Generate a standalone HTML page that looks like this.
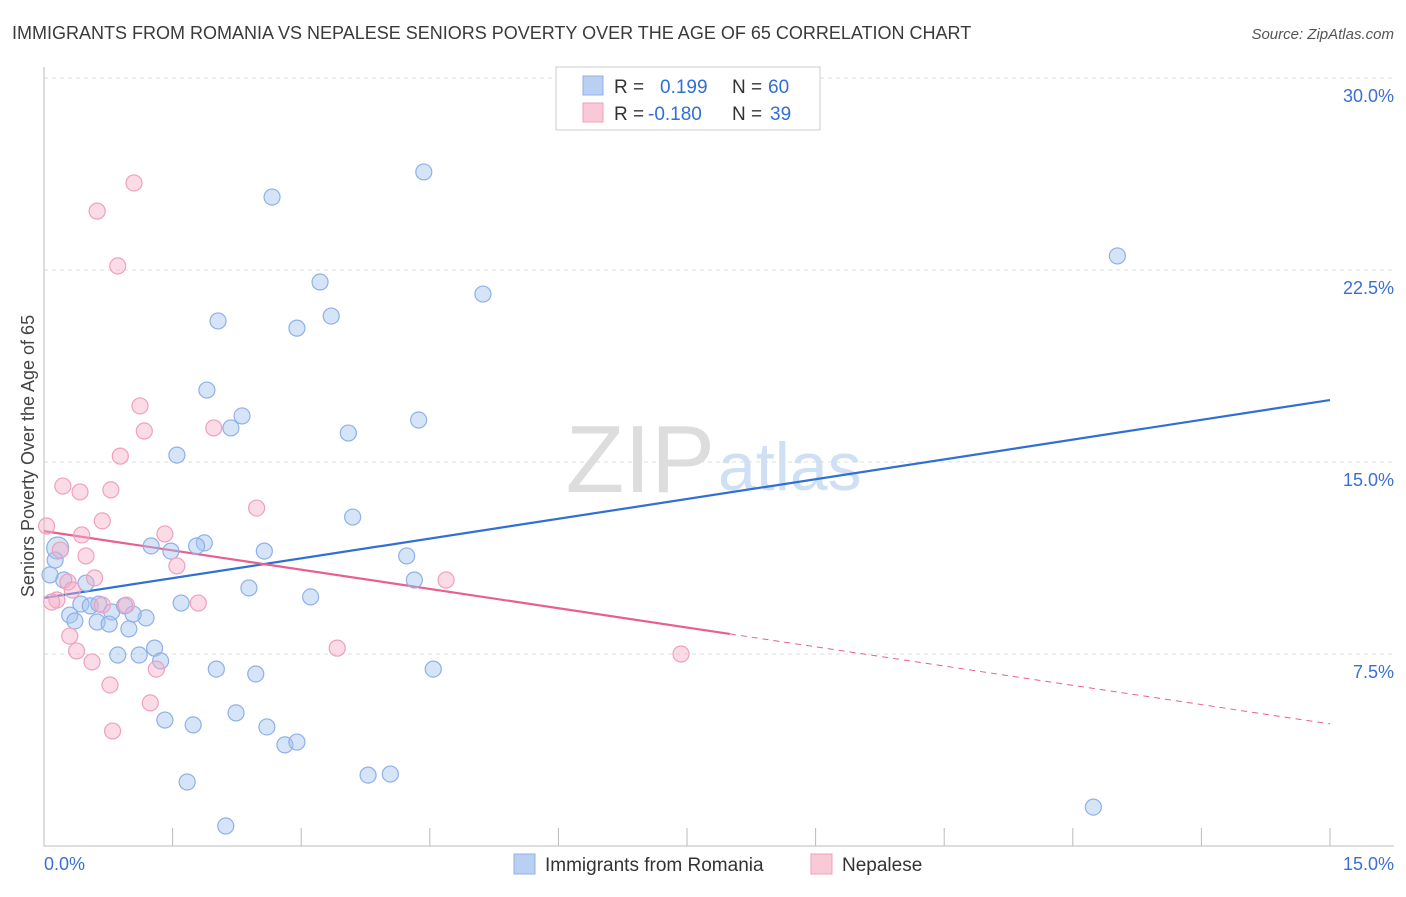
<!DOCTYPE html>
<html><head><meta charset="utf-8"><style>
body{margin:0;background:#fff;font-family:"Liberation Sans",sans-serif;}
svg text{font-family:"Liberation Sans",sans-serif;}
</style></head><body>
<svg id="chart" width="1406" height="892" xmlns="http://www.w3.org/2000/svg">
<text x="12" y="39" font-size="18" fill="#3a3a3a">IMMIGRANTS FROM ROMANIA VS NEPALESE SENIORS POVERTY OVER THE AGE OF 65 CORRELATION CHART</text>
<text x="1394" y="39" font-size="15" fill="#555" text-anchor="end" font-style="italic">Source: ZipAtlas.com</text>
<text x="715" y="492" font-size="96" fill="#ddd" text-anchor="end" font-family="Liberation Serif">ZIP</text>
<text x="718" y="490" font-size="68" fill="#cfe0f5">atlas</text>
<g id="grid"></g>
<g id="axes"></g>
<g id="trend"></g>
<g id="points"></g>
<text transform="translate(34,456) rotate(-90)" font-size="18" fill="#444" text-anchor="middle">Seniors Poverty Over the Age of 65</text>
<text x="44" y="870" font-size="18" fill="#3b6fd4">0.0%</text>
<text x="1394" y="870" font-size="18" fill="#3b6fd4" text-anchor="end">15.0%</text>
<g>
<rect x="556" y="67" width="264" height="63" fill="#fff" stroke="#ccc"/>
<rect x="583" y="76" width="20" height="19" fill="#b9d0f3" stroke="#8fb0e8"/>
<rect x="583" y="103" width="20" height="19" fill="#f9c9d8" stroke="#f0a0bb"/>
<text x="614" y="93" font-size="19" fill="#333">R = </text><text x="660" y="93" font-size="19" fill="#2f6fd6">0.199</text>
<text x="732" y="93" font-size="19" fill="#333">N = </text><text x="768" y="93" font-size="19" fill="#2f6fd6">60</text>
<text x="614" y="120" font-size="19" fill="#333">R = </text><text x="648" y="120" font-size="19" fill="#2f6fd6">-0.180</text>
<text x="732" y="120" font-size="19" fill="#333">N = </text><text x="770" y="120" font-size="19" fill="#2f6fd6">39</text>
</g>
<g>
<rect x="514" y="854" width="21" height="20" fill="#b9d0f3" stroke="#8fb0e8"/>
<text x="545" y="871" font-size="19" fill="#333">Immigrants from Romania</text>
<rect x="811" y="854" width="21" height="20" fill="#f9c9d8" stroke="#f0a0bb"/>
<text x="842" y="871" font-size="19" fill="#333">Nepalese</text>
</g>
</svg>
<script>
const yTicks=[7.5,15,22.5,30];
const yTickLabels=["7.5%","15.0%","22.5%","30.0%"];
const xTicks=[0,1.5,3,4.5,6,7.5,9,10.5,12,13.5,15];
const romaniaX=[4.43,2.66,12.52,3.22,5.12,2.03,2.95,3.35,1.90,2.31,2.18,3.55,4.37,1.55,3.60,1.25,1.48,1.87,1.78,2.57,4.23,4.32,2.39,3.11,0.16,0.13,0.23,0.49,0.43,0.54,0.64,0.79,0.94,0.30,0.36,0.62,0.76,0.99,1.19,1.60,0.86,1.11,1.29,1.36,2.01,2.47,4.54,1.41,1.74,2.24,2.60,2.81,2.95,1.67,3.78,4.04,2.12,12.24,0.07,1.04];
const romaniaY=[26.33,25.35,23.05,22.03,21.56,20.51,20.23,20.70,17.81,16.80,16.33,16.13,16.64,15.27,12.85,11.72,11.52,11.84,11.72,11.52,11.33,10.39,10.08,9.73,11.64,11.17,10.39,10.27,9.45,9.38,9.45,9.14,9.38,9.02,8.79,8.75,8.67,8.48,8.91,9.49,7.46,7.46,7.73,7.23,6.91,6.72,6.91,4.92,4.73,5.20,4.65,3.95,4.06,2.50,2.77,2.81,0.78,1.52,10.59,9.06];
const nepalX=[1.05,0.62,0.86,1.12,1.17,1.98,0.89,0.22,0.42,0.78,2.48,0.68,0.03,0.44,1.41,0.49,1.55,0.19,0.59,0.28,0.15,0.09,0.33,0.96,1.80,4.69,0.30,0.38,0.56,1.31,3.42,7.43,0.77,1.24,0.80,0.68];
const nepalY=[25.90,24.80,22.66,17.19,16.21,16.33,15.23,14.06,13.83,13.91,13.20,12.70,12.50,12.15,12.19,11.33,10.94,11.56,10.47,10.31,9.61,9.53,10.00,9.41,9.49,10.39,8.20,7.62,7.19,6.91,7.73,7.50,6.29,5.59,4.49,9.41];
const romaniaTrend=[9.69,17.42];
const nepalTrend=[12.30,4.77];
const nepalSolidEnd=8.0;
const NS="http://www.w3.org/2000/svg";
const X=v=>44+v/15*1286;
const Y=v=>846-v/30*768;
function mk(tag,attrs,parent){const e=document.createElementNS(NS,tag);for(const k in attrs)e.setAttribute(k,attrs[k]);document.getElementById(parent).appendChild(e);return e;}
yTicks.forEach((t,i)=>{
 const g=mk('line',{x1:44,x2:1394,y1:Y(t),y2:Y(t),stroke:'#ddd','stroke-dasharray':'4,4'},'grid');
 
 
 const tx=mk('text',{x:1394,y:Y(t)+24,'font-size':18,fill:'#3b6fd4','text-anchor':'end'},'grid');
 tx.textContent=yTickLabels[i];
 
 
});
const ya=mk('line',{x1:44,x2:44,y1:67,y2:846,stroke:'#bbb'},'axes');


const xa=mk('line',{x1:44,x2:1394,y1:846,y2:846,stroke:'#bbb'},'axes');


xTicks.forEach(t=>{
 const l=mk('line',{x1:X(t),x2:X(t),y1:828,y2:846,stroke:'#bbb'},'axes');
 
 
});
function dot(x,y,fill,stroke,name,r){
 const c=mk('circle',{cx:X(x),cy:Y(y),r:r,fill:fill,stroke:stroke,'stroke-width':1.2},'points');
 
 
}
romaniaX.forEach((x,i)=>dot(x,romaniaY[i],'rgba(165,195,240,0.45)','#8fb0e8','romania-point',i==24?11:8));
nepalX.forEach((x,i)=>dot(x,nepalY[i],'rgba(247,175,200,0.45)','#f0a0bb','nepalese-point',8));
const bt=mk('line',{x1:X(0),y1:Y(romaniaTrend[0]),x2:X(15),y2:Y(romaniaTrend[1]),stroke:'#2f6fd6','stroke-width':2.2},'trend');


const pm=nepalTrend[0]+(nepalTrend[1]-nepalTrend[0])*nepalSolidEnd/15;
const pt=mk('line',{x1:X(0),y1:Y(nepalTrend[0]),x2:X(nepalSolidEnd),y2:Y(pm),stroke:'#e8608f','stroke-width':2.2},'trend');


const pd=mk('line',{x1:X(nepalSolidEnd),y1:Y(pm),x2:X(15),y2:Y(nepalTrend[1]),stroke:'#e8608f','stroke-width':1,'stroke-dasharray':'6,5'},'trend');


</script>
</body></html>
